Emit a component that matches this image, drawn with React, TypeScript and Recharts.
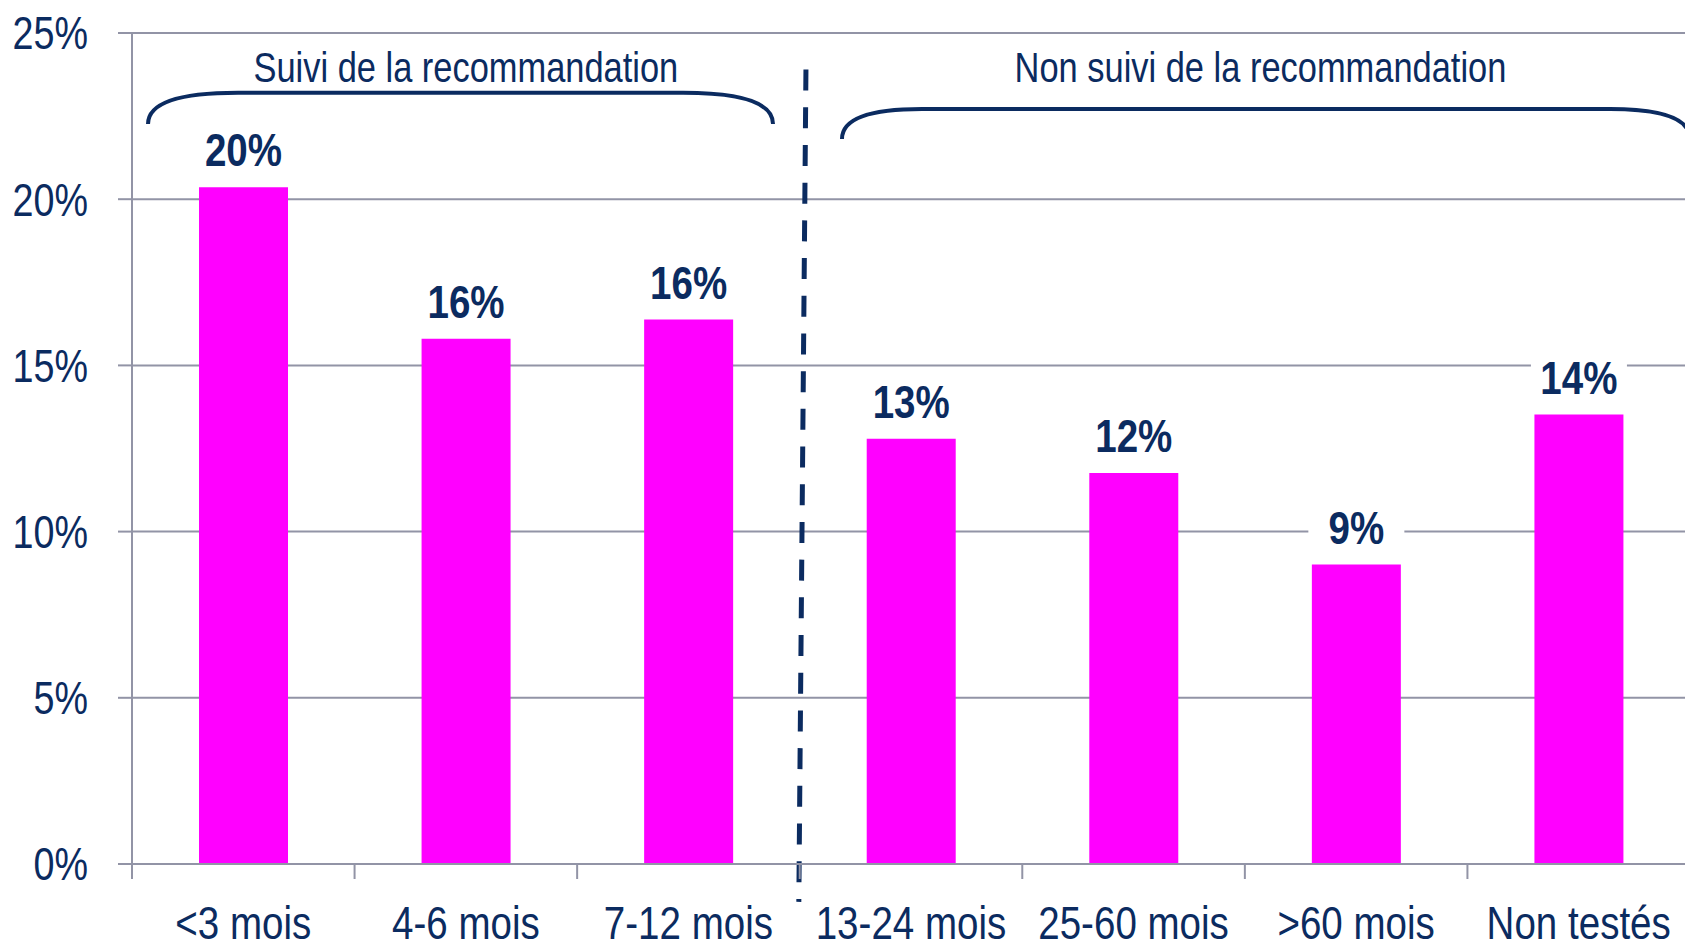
import React from "react";
import {
  BarChart,
  Bar,
  XAxis,
  YAxis,
  CartesianGrid,
  LabelList,
  Customized,
} from "recharts";

const categories = [
  "<3 mois",
  "4-6 mois",
  "7-12 mois",
  "13-24 mois",
  "25-60 mois",
  ">60 mois",
  "Non testés",
];
const shares = [20.36, 15.8, 16.38, 12.79, 11.76, 9.01, 13.52];
const shareLabels = ["20%", "16%", "16%", "13%", "12%", "9%", "14%"];
const yTicks = [0, 5, 10, 15, 20, 25];
const groupTitles = ["Suivi de la recommandation", "Non suivi de la recommandation"];

const data = categories.map((name, i) => ({
  name,
  value: shares[i],
  label: shareLabels[i],
}));

const NAVY = "#0b2b60";
const GRID = "#9294a6";
const MAGENTA = "#ff00ff";
const FONT = "'Liberation Sans', Arial, sans-serif";
const NARROW = 0.82; // squeeze to look like Arial Narrow

// chart geometry
const W = 1700;
const H = 942;
const AXIS_W = 132;
const TOP = 33;
const X_AXIS_H = 78;
const RIGHT = 10;
const PLOT_W = W - AXIS_W - RIGHT;
const PLOT_H = H - TOP - X_AXIS_H;
const PLOT_BOTTOM = TOP + PLOT_H;
const BAND = PLOT_W / categories.length;
const px = (u: number) => AXIS_W + u * BAND;
const py = (v: number) => PLOT_BOTTOM - (v / 25) * PLOT_H;

const NarrowText = ({ x, y, anchor = "middle", size, bold = false, dy, children }: any) => (
  <text
    transform={`translate(${x} ${y}) scale(${NARROW} 1)`}
    x={0}
    y={0}
    dy={dy}
    textAnchor={anchor}
    fill={NAVY}
    fontFamily={FONT}
    fontSize={size}
    fontWeight={bold ? "bold" : "normal"}
  >
    {children}
  </text>
);

const XTick = (props: any) => {
  const { x, y, payload, index } = props;
  const left = x - BAND / 2;
  const right = x + BAND / 2;
  return (
    <g>
      <line x1={left} y1={PLOT_BOTTOM} x2={left} y2={PLOT_BOTTOM + 15} stroke={GRID} strokeWidth={2} />
      {index === categories.length - 1 && (
        <line x1={right} y1={PLOT_BOTTOM} x2={right} y2={PLOT_BOTTOM + 15} stroke={GRID} strokeWidth={2} />
      )}
      <NarrowText x={x} y={y} size={47} dy="0.71em">
        {payload.value}
      </NarrowText>
    </g>
  );
};

const YTick = (props: any) => {
  const { x, y, payload } = props;
  return (
    <NarrowText x={x} y={y} anchor="end" size={46} dy="0.355em">
      {`${payload.value}%`}
    </NarrowText>
  );
};

const ValueLabel = (props: any) => {
  const { x, y, width, value } = props;
  const cx = x + width / 2;
  const base = y - 21;
  return (
    <g>
      <rect x={cx - 48} y={base - 40} width={96} height={46} fill="#fff" />
      <NarrowText x={cx} y={base} size={47} bold>
        {value}
      </NarrowText>
    </g>
  );
};

const brace = (x1: number, x2: number, yTop: number, yEnd: number, r: number) =>
  `M ${x1} ${yEnd} Q ${x1} ${yTop} ${x1 + r} ${yTop} L ${x2 - r} ${yTop} Q ${x2} ${yTop} ${x2} ${yEnd}`;

const Annotations = () => (
  <g>
    <line
      x1={px(3.028)}
      y1={py(23.9)}
      x2={px(2.996)}
      y2={py(-1.14)}
      stroke={NAVY}
      strokeWidth={5}
      strokeDasharray="21 16.7"
    />
    <path
      d={brace(px(0.072), px(2.88), py(23.2), py(22.26), 90)}
      fill="none"
      stroke={NAVY}
      strokeWidth={4}
    />
    <path
      d={brace(px(3.19), px(7.0), py(22.71), py(21.81), 80)}
      fill="none"
      stroke={NAVY}
      strokeWidth={4}
    />
    <NarrowText x={px(1.5)} y={82} size={42}>
      {groupTitles[0]}
    </NarrowText>
    <NarrowText x={px(5.07)} y={82} size={42}>
      {groupTitles[1]}
    </NarrowText>
  </g>
);

export default function App() {
  return (
    <div
      style={{
        position: "absolute",
        left: 0,
        top: 0,
        width: 1685,
        height: 942,
        overflow: "hidden",
        background: "#fff",
      }}
    >
      <BarChart
        width={W}
        height={H}
        data={data}
        margin={{ top: TOP, right: RIGHT, left: 0, bottom: 0 }}
      >
        <CartesianGrid vertical={false} stroke={GRID} strokeWidth={2} />
        <XAxis
          dataKey="name"
          height={X_AXIS_H}
          interval={0}
          axisLine={{ stroke: GRID, strokeWidth: 2 }}
          tickLine={false}
          tickSize={15}
          tickMargin={27}
          tick={<XTick />}
        />
        <YAxis
          width={AXIS_W}
          domain={[0, 25]}
          ticks={yTicks}
          tickSize={14}
          tickMargin={30}
          tickLine={{ stroke: GRID, strokeWidth: 2 }}
          axisLine={{ stroke: GRID, strokeWidth: 2 }}
          tick={<YTick />}
        />
        <Bar dataKey="value" fill={MAGENTA} barSize={89} isAnimationActive={false}>
          <LabelList dataKey="label" content={<ValueLabel />} />
        </Bar>
        <Customized component={<Annotations />} />
      </BarChart>
    </div>
  );
}
